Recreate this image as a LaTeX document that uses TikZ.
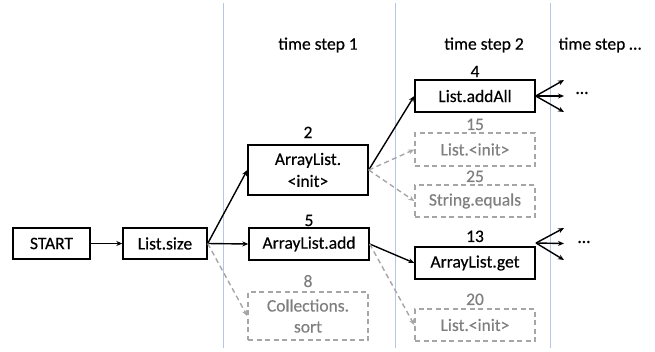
\documentclass[tikz,border=0pt]{standalone}
\usepackage{fontspec}
\setmainfont[FakeBold=0.4,AutoFakeBold=0.4]{Carlito}
\usetikzlibrary{arrows.meta}
\definecolor{tsblue}{HTML}{B4C7E7}
\definecolor{dgray}{HTML}{A6A6A6}
\definecolor{tgray}{HTML}{7F7F7F}
\begin{document}
\begin{tikzpicture}[x=1bp,y=-1bp,
  font=\fontsize{17.5bp}{21bp}\selectfont,
  box/.style={draw=black,line width=1.4bp,minimum height=32bp,inner sep=0pt,align=center},
  gbox/.style={draw=dgray,dashed,dash pattern=on 5bp off 3.5bp,line width=1.4bp,text=tgray,minimum height=32bp,minimum width=120bp,inner sep=0pt,align=center},
  num/.style={inner sep=0pt,label distance=2bp},
  arr/.style={line width=1.4bp,-{Stealth[length=6bp,width=5bp]}},
  garr/.style={draw=dgray,line width=1.4bp,dash pattern=on 5bp off 3.5bp,-{Stealth[length=6bp,width=5bp]}},
  vline/.style={draw=tsblue,line width=0.8bp}]
\useasboundingbox (0,0) rectangle (655,351);
% vertical separators
\coordinate (v1t) at (223,3); \coordinate (v1b) at (223,348);
\coordinate (v2t) at (395,3); \coordinate (v2b) at (395,348);
\coordinate (v3t) at (550,3); \coordinate (v3b) at (550,348);
\draw[vline] (v1t) -- (v1b);
\draw[vline] (v2t) -- (v2b);
\draw[vline] (v3t) -- (v3b);
% time step headers
\node (ts1) at (318,45) {time step 1};
\node (ts2) at (484,45) {time step 2};
\node (ts3) at (600,45) {time step …};
% nodes
\node[box,minimum width=77bp,minimum height=31bp] (start) at (51.5,243.5) {START};
\node[box,minimum width=84bp,minimum height=31bp] (size) at (165,243.5) {List.size};
\node[box,minimum width=120bp,minimum height=50bp,label={[num,label distance=6bp]above:2}] (ainit) at (308,170) {ArrayList.\\[1bp]<init>};
\node[box,minimum width=120bp,label={[num,label distance=1bp]above:5}] (aadd) at (309,244) {ArrayList.add};
\node[gbox,minimum height=48bp,label={[num,text=tgray,label distance=4bp]above:8}] (csort) at (308,316) {Collections.\\sort};
\node[box,minimum width=120bp,label={[num]above:4}] (addall) at (475,96) {List.addAll};
\node[gbox,minimum height=33bp,label={[num,text=tgray]above:15}] (linit1) at (475,149.5) {List.<init>};
\node[gbox,label={[num,text=tgray]above:25}] (sequals) at (475,201) {String.equals};
\node[box,minimum width=120bp,label={[num,label distance=4bp]above:13}] (aget) at (475,263) {ArrayList.get};
\node[gbox,label={[num,text=tgray,label distance=3bp]above:20}] (linit2) at (475,325) {List.<init>};
% ellipses
\node (dots1) at (582,93) {…};
\node (dots2) at (584,242) {…};
% fan coordinates
\coordinate (f1a) at (564,80);
\coordinate (f1b) at (564,96);
\coordinate (f1c) at (564,112);
\coordinate (g0) at (536,243);
\coordinate (g1a) at (564,228);
\coordinate (g1b) at (564,243.5);
\coordinate (g1c) at (564,260);
% connectors
\draw[arr] (start.east) -- (size.west);
\draw[arr] (size.east) -- (ainit.west);
\draw[arr] (size.east) -- (aadd.west);
\draw[garr] (size.east) -- (csort.west);
\draw[arr] (ainit.east) -- (addall.west);
\draw[garr] (ainit.east) -- (linit1.west);
\draw[garr] (ainit.east) -- (sequals.west);
\draw[arr] (aadd.east) -- (aget.west);
\draw[garr] (aadd.east) -- (linit2.west);
\draw[arr] (addall.east) -- (f1a);
\draw[arr] (addall.east) -- (f1b);
\draw[arr] (addall.east) -- (f1c);
\draw[arr] (g0) -- (g1a);
\draw[arr] (g0) -- (g1b);
\draw[arr] (g0) -- (g1c);
\end{tikzpicture}
\end{document}
